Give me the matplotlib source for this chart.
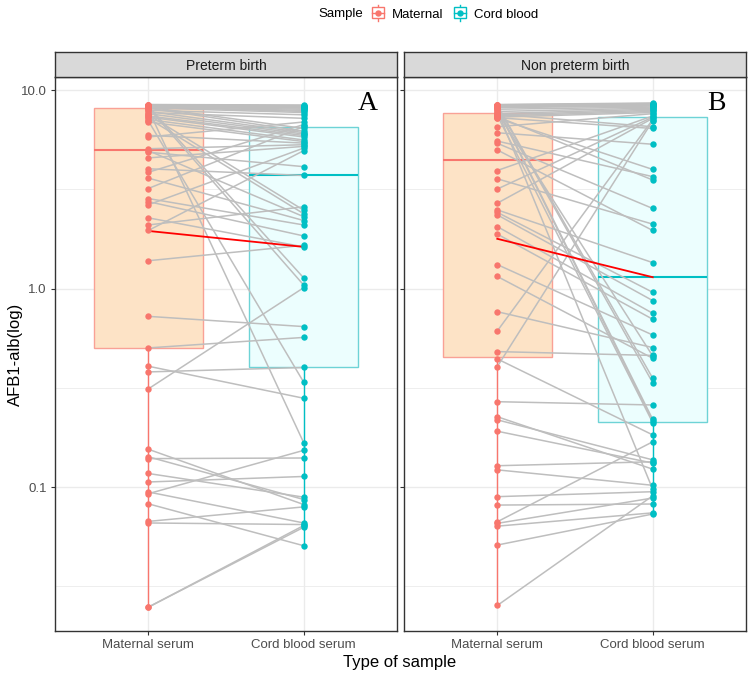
import matplotlib.pyplot as plt
from matplotlib.patches import Rectangle
from matplotlib.lines import Line2D
from matplotlib.ticker import FixedLocator, NullFormatter

plt.rcParams['font.family'] = ['Liberation Sans', 'DejaVu Sans']

groups = ['Maternal serum', 'Cord blood serum']
panels = ['Preterm birth', 'Non preterm birth']
tags = ['A', 'B']

# paired samples: maternal[i] is joined to cord[i]
preterm_maternal = [8.45, 8.42, 8.40, 8.38, 8.35, 8.32, 8.30, 8.28, 8.25, 8.22, 8.20, 8.18, 8.15, 8.12,
                    8.10, 8.00, 7.90, 7.80, 7.70, 7.60, 7.50, 7.40, 7.30, 7.20, 7.10, 7.00, 6.90, 5.91,
                    5.80, 5.06, 4.95, 4.86, 4.55, 4.01, 3.85, 3.60, 3.19, 2.84, 2.74, 2.64, 2.27, 2.09,
                    1.96, 1.38, 0.724, 0.502, 0.406, 0.380, 0.312, 0.155, 0.142, 0.139, 0.117, 0.106,
                    0.0944, 0.0925, 0.0823, 0.0671, 0.0659, 0.0248, 0.0248]
preterm_cord = [8.40, 8.35, 8.30, 8.25, 8.20, 8.15, 8.10, 1.13, 8.00, 7.80, 6.40, 7.90, 1.04, 7.70,
                6.20, 0.167, 7.50, 6.10, 7.20, 6.00, 2.48, 5.90, 5.80, 2.38, 5.60, 0.337, 5.50, 5.40,
                6.90, 5.30, 2.30, 4.11, 5.20, 3.71, 6.70, 2.20, 6.55, 2.09, 1.84, 5.10, 1.62, 2.58,
                4.95, 1.65, 0.643, 0.567, 0.280, 0.400, 1.01, 0.0816, 0.0865, 0.140, 0.0889, 0.113,
                0.0659, 0.153, 0.0506, 0.0794, 0.0647, 0.0627, 0.064]

nonpreterm_maternal = [8.45, 8.42, 8.40, 8.38, 8.35, 8.32, 8.30, 8.25, 8.20, 8.15, 8.10, 8.00, 7.90, 7.80,
                       7.70, 7.62, 7.55, 7.50, 7.45, 7.40, 7.35, 7.30, 7.25, 7.20, 6.53, 6.09, 5.53, 5.39,
                       4.99, 3.93, 3.57, 3.17, 2.69, 2.49, 2.42, 2.35, 2.05, 1.88, 1.32, 1.15, 0.764, 0.611,
                       0.481, 0.442, 0.404, 0.269, 0.226, 0.218, 0.191, 0.128, 0.122, 0.0894, 0.0811,
                       0.0668, 0.0656, 0.0635, 0.0510, 0.0253]
nonpreterm_cord = [8.60, 8.55, 0.353, 8.50, 8.45, 0.335, 8.40, 8.35, 0.219, 8.30, 0.215, 8.20, 0.0973, 8.10,
                   0.457, 8.00, 6.53, 7.90, 0.211, 7.80, 3.52, 7.70, 6.40, 3.98, 7.60, 5.33, 3.66, 2.53,
                   1.96, 7.40, 2.11, 7.30, 7.20, 1.35, 0.957, 0.869, 0.750, 0.700, 0.583, 0.445, 0.504, 7.10,
                   0.460, 0.183, 7.00, 0.259, 0.123, 0.137, 0.132, 0.134, 0.102, 0.0947, 0.0821,
                   0.169, 0.0880, 0.0741, 0.0731, 0.0903]

# box statistics: q1, median, q3 (whiskers go to min / max)
preterm_box_maternal = [0.50, 4.99, 8.11]
preterm_box_cord = [0.40, 3.71, 6.52]
nonpreterm_box_maternal = [0.452, 4.44, 7.64]
nonpreterm_box_cord = [0.212, 1.14, 7.28]

# red line joining the group means
preterm_mean = [1.95, 1.62]
nonpreterm_mean = [1.78, 1.14]

data = [
    (preterm_maternal, preterm_cord, preterm_box_maternal, preterm_box_cord, preterm_mean),
    (nonpreterm_maternal, nonpreterm_cord, nonpreterm_box_maternal, nonpreterm_box_cord, nonpreterm_mean),
]

red, teal = '#F8766D', '#00BFC4'


class BoxKey:
    def __init__(self, color):
        self.color = color


class BoxKeyHandler:
    # little boxplot glyph like the ggplot legend key
    def legend_artist(self, legend, orig_handle, fontsize, handlebox):
        x0, y0 = -handlebox.xdescent, -handlebox.ydescent
        w, h = handlebox.width, handlebox.height
        c = orig_handle.color
        tr = handlebox.get_transform()
        cx, cy = x0 + w / 2, y0 + h / 2
        line = Line2D([cx, cx], [y0 - h * 0.25, y0 + h * 1.25], color=c, lw=1.0, transform=tr)
        rect = Rectangle((x0, y0), w, h, facecolor='white', edgecolor=c, lw=1.0, transform=tr)
        med = Line2D([x0, x0 + w], [cy, cy], color=c, lw=1.0, transform=tr)
        dot = Line2D([cx], [cy], marker='o', ms=4.6, mew=0, color=c, transform=tr)
        for a in (line, rect, med, dot):
            handlebox.add_artist(a)
        return rect


fig = plt.figure(figsize=(7.5, 6.76), dpi=100)
W, H = 750, 676
lefts = [55, 404]
pw = 342
top, bottom = 77, 631

for i, (mat, cord, bm, bc, mean) in enumerate(data):
    ax = fig.add_axes([lefts[i] / W, 1 - bottom / H, pw / W, (bottom - top) / H])
    ax.set_yscale('log')

    stats = []
    for vals, b in ((mat, bm), (cord, bc)):
        stats.append({'whislo': min(vals), 'q1': b[0], 'med': b[1], 'q3': b[2], 'whishi': max(vals)})
    bp = ax.bxp(stats, positions=[1, 2], widths=0.7, patch_artist=True, showcaps=False,
                showfliers=False, zorder=1)
    box_face = ['#FDE3C6', '#ECFEFE']
    box_edge = ['#F9A196', '#6ED3D6']
    main = [red, teal]
    for k in range(2):
        bp['boxes'][k].set_facecolor(box_face[k])
        bp['boxes'][k].set_edgecolor(box_edge[k])
        bp['boxes'][k].set_linewidth(1.0)
        bp['medians'][k].set_color(main[k])
        bp['medians'][k].set_linewidth(1.5)
        for w in bp['whiskers'][2 * k:2 * k + 2]:
            w.set_color(main[k])
            w.set_linewidth(1.0)

    for m, c in zip(mat, cord):
        ax.plot([1, 2], [m, c], color='#BEBEBE', lw=1.1, zorder=2)
    ax.plot([1, 2], mean, color='red', lw=1.3, zorder=3)
    ax.plot([1] * len(mat), mat, 'o', color=red, ms=4.6, mew=0, zorder=4)
    ax.plot([2] * len(cord), cord, 'o', color=teal, ms=4.6, mew=0, zorder=4)

    ax.set_xlim(0.4, 2.6)
    ax.set_ylim(10 ** -1.7254, 10 ** 1.0655)
    ax.set_xticks([1, 2])
    ax.set_xticklabels(groups)
    ax.yaxis.set_major_locator(FixedLocator([0.1, 1, 10]))
    ax.yaxis.set_minor_locator(FixedLocator([10 ** -1.5, 10 ** -0.5, 10 ** 0.5]))
    ax.yaxis.set_minor_formatter(NullFormatter())
    if i == 0:
        ax.set_yticklabels(['0.1', '1.0', '10.0'])
    else:
        ax.set_yticklabels([])
    ax.tick_params(which='major', length=3, color='#333333', labelcolor='#4D4D4D', labelsize=9.5, pad=3)
    ax.tick_params(which='minor', length=0)
    ax.grid(which='major', color='#EBEBEB', lw=1.0, zorder=0)
    ax.grid(which='minor', axis='y', color='#EBEBEB', lw=0.6, zorder=0)
    ax.set_axisbelow(True)
    for s in ax.spines.values():
        s.set_color('#333333')
        s.set_linewidth(1.0)
    ax.text(2.41, 8.6, tags[i], fontsize=20, family=['Liberation Serif', 'DejaVu Serif'],
            ha='center', va='center', zorder=5)

    # facet strip
    sx = fig.add_axes([lefts[i] / W, 1 - top / H, pw / W, 25 / H])
    sx.set_facecolor('#D9D9D9')
    sx.set_xticks([])
    sx.set_yticks([])
    for s in sx.spines.values():
        s.set_color('#333333')
        s.set_linewidth(1.0)
    sx.text(0.5, 0.45, panels[i], ha='center', va='center', fontsize=10, color='#1A1A1A',
            transform=sx.transAxes)

fig.text(400 / W, 1 - 663 / H, 'Type of sample', ha='center', va='center', fontsize=12)
fig.text(15 / W, 1 - 354 / H, 'AFB1-alb(log)', ha='center', va='center', rotation=90, fontsize=12)

fig.legend([BoxKey(red), BoxKey(teal)], ['Maternal', 'Cord blood'],
           handler_map={BoxKey: BoxKeyHandler()},
           ncol=2, loc='center', bbox_to_anchor=(455 / W, 1 - 14 / H), frameon=False,
           handlelength=0.9, handleheight=0.9, handletextpad=0.6, columnspacing=0.8, fontsize=9.5)
fig.text(341 / W, 1 - 14 / H, 'Sample', ha='center', va='center', fontsize=9.5)

fig.savefig('out.png', dpi=100)
